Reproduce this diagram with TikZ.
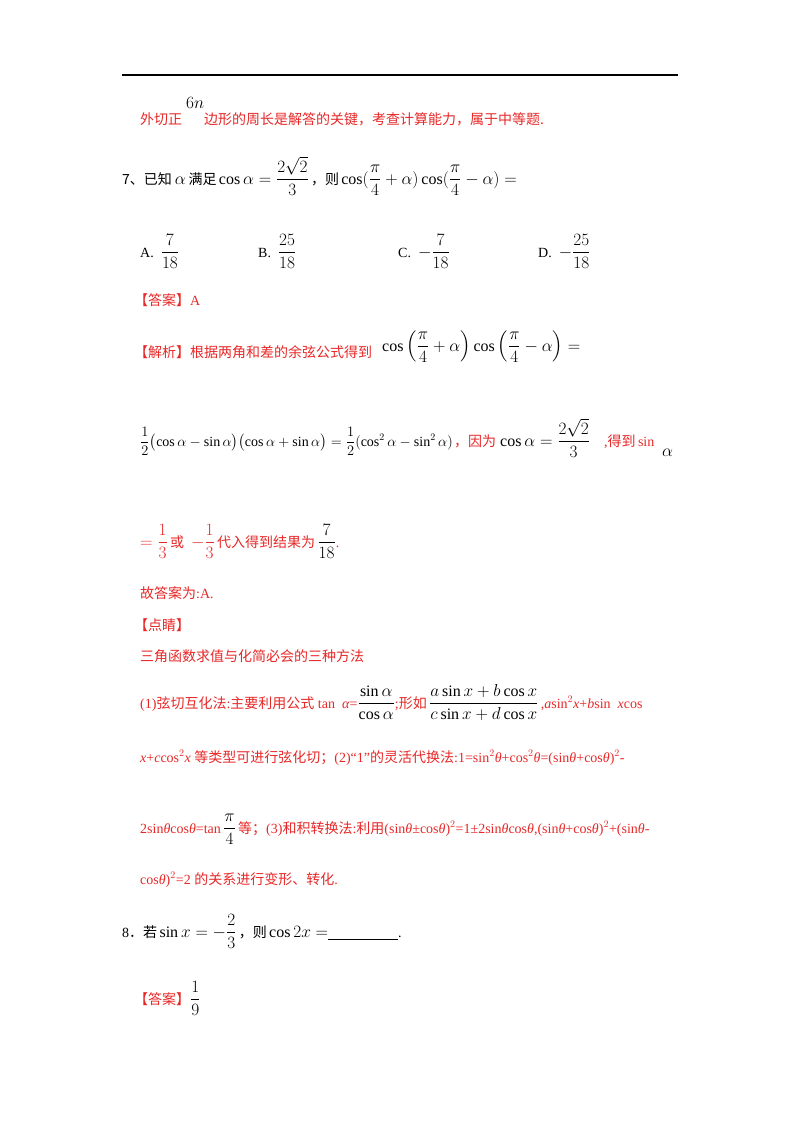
\documentclass[tikz,border=0pt]{standalone}
\usepackage{amsmath}
\usepackage{fontspec}
\setmainfont{Liberation Serif}
\newfontfamily\cjk{Noto Sans CJK SC}
\definecolor{rd}{RGB}{232,40,40}
\newcommand{\bm}[1]{{\fontsize{16}{18}\selectfont #1}}
\begin{document}
\begin{tikzpicture}[x=1pt,y=-1pt,
  t/.style={anchor=base west,inner sep=0pt,font=\fontsize{14}{16}\selectfont},
  r/.style={t,text=rd}]
\useasboundingbox (0,0) rectangle (800,1132);
\fill[white] (0,0) rectangle (800,1132);
\draw[line width=1.2pt] (122,75) -- (678,75);
\node[r] (l1) at (140,124) {\cjk 外切正};
\node[t,font=\fontsize{17}{18}\selectfont] (n6) at (186,108) {$6n$};
\node[r] (l1b) at (204,124) {\cjk 边形的周长是解答的关键，考查计算能力，属于中等题.};
\node[t] (q7) at (122,184) {{\cjk 7、已知}\bm{$\,\alpha\,$}{\cjk 满足}\,\bm{$\cos\alpha=\dfrac{2\sqrt2}{3}$}\,{\cjk ，则}\,\bm{$\cos(\dfrac{\pi}{4}+\alpha)\cos(\dfrac{\pi}{4}-\alpha)=$}};
\node[t] (oa) at (140,257) {A.\ \ \bm{$\dfrac{7}{18}$}};
\node[t] (ob) at (258,257) {B.\ \ \bm{$\dfrac{25}{18}$}};
\node[t] (oc) at (398,257) {C.\ \ \bm{$-\dfrac{7}{18}$}};
\node[t] (od) at (538,257) {D.\ \ \bm{$-\dfrac{25}{18}$}};
\node[r] (ans) at (134,305) {{\cjk 【答案】}A};
\node[r] (jx) at (134,357) {\cjk 【解析】根据两角和差的余弦公式得到};
\node[t] (f1) at (382,351) {\bm{$\cos\left(\dfrac{\pi}{4}+\alpha\right)\cos\left(\dfrac{\pi}{4}-\alpha\right)=$}};
\node[t] (f2) at (140,446) {$\dfrac12\bigl(\cos\alpha-\sin\alpha\bigr)\bigl(\cos\alpha+\sin\alpha\bigr)=\dfrac12(\cos^2\alpha-\sin^2\alpha)$};
\node[r] (yw) at (454,446) {\cjk ，因为};
\node[t] (f3) at (500,446) {\bm{$\cos\alpha=\dfrac{2\sqrt2}{3}$}};
\node[r] (dd) at (604,446) {,{\cjk 得到}\,sin};
\node[t,font=\fontsize{17}{18}\selectfont] (al) at (662,456) {$\alpha$};
\node[r] (l3) at (140,547) {\bm{$=\dfrac{1}{3}$}\,{\cjk 或}\ \ \bm{$-\dfrac{1}{3}$}\,{\cjk 代入得到结果为}\,\textcolor{black}{\bm{$\dfrac{7}{18}$}}.};
\node[r] (gd) at (140,598) {{\cjk 故答案为}:A.};
\node[r] (dj) at (134,630) {\cjk 【点睛】};
\node[r] (sf) at (140,661) {\cjk 三角函数求值与化简必会的三种方法};
\node[r] (m1) at (140,708) {(1){\cjk 弦切互化法}:{\cjk 主要利用公式} tan\ \ \textit{α}=\textcolor{black}{\bm{$\dfrac{\sin\alpha}{\cos\alpha}$}};{\cjk 形如}\,\textcolor{black}{\bm{$\dfrac{a\sin x+b\cos x}{c\sin x+d\cos x}$}}\,,\textit{a}sin$^2$\textit{x}+\textit{b}sin\ \ \textit{x}cos};
\node[r] (m2) at (140,762) {\textit{x}+\textit{c}cos$^2$\textit{x} {\cjk 等类型可进行弦化切；}(2)“1”{\cjk 的灵活代换法}:1=sin$^2$\textit{θ}+cos$^2$\textit{θ}=(sin\textit{θ}+cos\textit{θ})$^2$-};
\node[r] (m3) at (140,833) {2sin\textit{θ}cos\textit{θ}=tan\,\textcolor{black}{\bm{$\dfrac{\pi}{4}$}}\,{\cjk 等；}(3){\cjk 和积转换法}:{\cjk 利用}(sin\textit{θ}±cos\textit{θ})$^2$=1±2sin\textit{θ}cos\textit{θ},(sin\textit{θ}+cos\textit{θ})$^2$+(sin\textit{θ}-};
\node[r] (m4) at (140,884) {cos\textit{θ})$^2$=2 {\cjk 的关系进行变形、转化}.};
\node[t] (q8) at (122,937) {8{\cjk ．若}\,\bm{$\sin x=-\dfrac{2}{3}$}\,{\cjk ，则}\,\bm{$\cos 2x=$}\underline{\hspace{70pt}}.};
\node[r] (a8) at (134,1004) {{\cjk 【答案】}\textcolor{black}{\bm{$\dfrac{1}{9}$}}};
\end{tikzpicture}
\end{document}
